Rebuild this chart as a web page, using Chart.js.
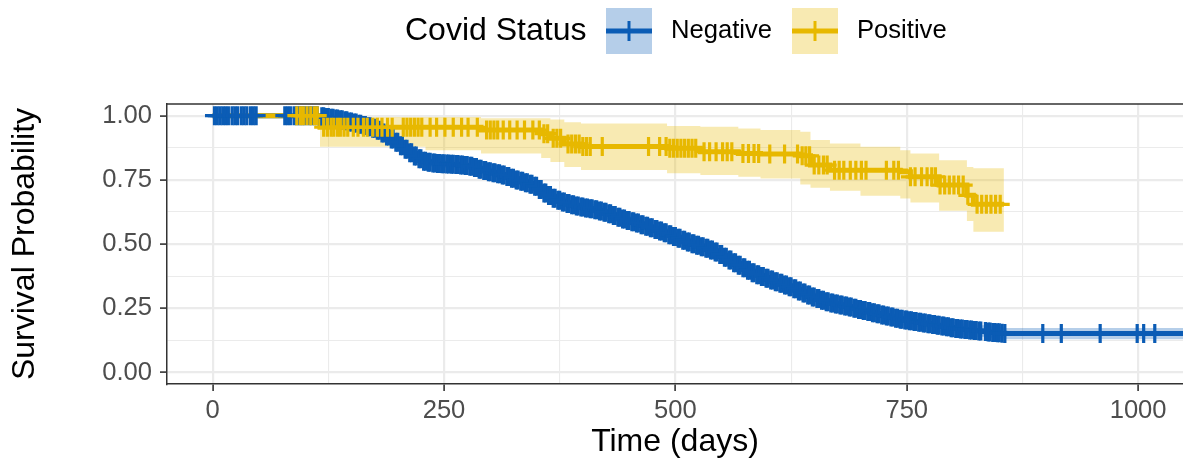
<!DOCTYPE html>
<html><head><meta charset="utf-8">
<script src="https://cdn.jsdelivr.net/npm/chart.js@4.4.0/dist/chart.umd.min.js"></script>
<style>html,body{margin:0;padding:0;background:#fff;}#c{display:block;}</style>
</head><body>
<canvas id="c" width="1183" height="465"></canvas>
<script>
// ---------- data ----------
const groupNames = ['Negative', 'Positive'];
const legendTitle = 'Covid Status';
const xTitle = 'Time (days)';
const yTitle = 'Survival Probability';
const xMajorTicks = [0, 250, 500, 750, 1000];
const xMinorTicks = [125, 375, 625, 875];
const yMajorTicks = [0, 0.25, 0.5, 0.75, 1];
const yMinorTicks = [0.125, 0.375, 0.625, 0.875];

// Negative group: Kaplan-Meier step curve
const negTime = [0,116,121,126,131,136,141,146,151,156,161,166,171,176,181,186,191,196,201,206,211,216,221,226,231,236,241,246,251,256,261,266,271,276,281,286,291,296,301,306,311,316,321,326,331,336,341,346,351,356,361,366,371,376,381,386,391,396,401,406,411,416,421,426,431,436,441,446,451,456,461,466,471,476,481,486,491,496,501,506,511,516,521,526,531,536,541,546,551,556,561,566,571,576,581,586,591,596,601,606,611,616,621,626,631,636,641,646,651,656,661,666,671,676,681,686,691,696,701,706,711,716,721,726,731,736,741,746,751,756,761,766,771,776,781,786,791,796,801,806,811,816,821,826,831,836,841,846,851,856,1060];
const negSurv = [1,0.996,0.993,0.99,0.987,0.984,0.98,0.976,0.972,0.967,0.962,0.957,0.951,0.943,0.933,0.921,0.909,0.897,0.883,0.869,0.856,0.843,0.832,0.823,0.819,0.816,0.814,0.813,0.812,0.811,0.81,0.808,0.806,0.803,0.798,0.792,0.787,0.782,0.778,0.774,0.769,0.763,0.757,0.75,0.745,0.739,0.733,0.725,0.713,0.699,0.689,0.679,0.671,0.664,0.658,0.653,0.649,0.645,0.641,0.638,0.634,0.629,0.624,0.618,0.612,0.605,0.598,0.592,0.587,0.582,0.576,0.57,0.564,0.557,0.551,0.544,0.537,0.53,0.523,0.515,0.508,0.502,0.496,0.49,0.484,0.477,0.469,0.46,0.449,0.438,0.428,0.418,0.408,0.398,0.389,0.381,0.374,0.367,0.36,0.354,0.348,0.341,0.334,0.326,0.318,0.31,0.302,0.294,0.288,0.282,0.276,0.271,0.267,0.263,0.259,0.255,0.25,0.246,0.242,0.238,0.233,0.229,0.224,0.22,0.216,0.212,0.208,0.205,0.202,0.199,0.196,0.193,0.19,0.187,0.184,0.181,0.178,0.175,0.172,0.17,0.168,0.166,0.164,0.162,0.16,0.158,0.156,0.155,0.153,0.152,0.152];
// Negative group: 95% confidence band
const negCITime = [0,116,126,136,146,156,166,176,186,196,206,216,226,236,246,256,266,276,286,296,306,316,326,336,346,356,366,376,386,396,406,416,426,436,446,456,466,476,486,496,506,516,526,536,546,556,566,576,586,596,606,616,626,636,646,656,666,676,686,696,706,716,726,736,746,756,766,776,786,796,806,816,826,836,846,856,1060];
const negUpper = [1,1,0.998,0.992,0.984,0.979,0.969,0.955,0.933,0.909,0.881,0.859,0.839,0.832,0.829,0.827,0.824,0.819,0.808,0.798,0.79,0.779,0.766,0.755,0.741,0.718,0.698,0.683,0.672,0.664,0.657,0.648,0.637,0.624,0.611,0.601,0.589,0.576,0.563,0.549,0.534,0.524,0.512,0.499,0.482,0.46,0.44,0.42,0.403,0.389,0.376,0.363,0.348,0.332,0.316,0.304,0.293,0.285,0.277,0.268,0.26,0.251,0.242,0.234,0.227,0.221,0.215,0.209,0.203,0.197,0.192,0.188,0.184,0.18,0.177,0.174,0.174];
const negLower = [1,0.988,0.982,0.976,0.968,0.955,0.945,0.931,0.909,0.885,0.857,0.827,0.807,0.8,0.797,0.795,0.792,0.787,0.776,0.766,0.758,0.747,0.734,0.723,0.709,0.68,0.66,0.645,0.634,0.626,0.619,0.61,0.599,0.586,0.573,0.563,0.551,0.538,0.525,0.511,0.496,0.48,0.468,0.455,0.438,0.416,0.396,0.376,0.359,0.345,0.332,0.319,0.304,0.288,0.272,0.26,0.249,0.241,0.233,0.224,0.216,0.207,0.198,0.19,0.183,0.177,0.171,0.165,0.159,0.153,0.148,0.144,0.14,0.136,0.133,0.13,0.13];
const negCensor = [2,5,8,11,14,17,21,24,27,31,34,37,41,44,47,78,81,84,88,91,94,97,100,104,107,110,113,
118,120,123,125,128,130,133,135,138,140,143,145,148,150,153,155,158,160,163,165,168,170,173,175,178,180,183,185,188,190,193,195,198,200,203,205,208,210,213,215,218,220,223,225,228,230,233,235,238,240,243,245,248,250,253,255,258,260,263,265,268,270,273,275,278,280,283,285,288,290,293,295,298,300,303,305,308,310,313,315,318,320,323,325,328,330,333,335,338,340,343,345,348,350,353,355,358,360,363,365,368,370,373,375,378,380,383,385,388,390,393,395,398,400,403,405,408,410,413,415,418,420,423,425,428,430,433,435,438,440,443,445,448,450,453,455,458,460,463,465,468,470,473,475,478,480,483,485,488,490,493,495,498,500,503,505,508,510,513,515,518,520,523,525,528,530,533,535,538,540,543,545,548,550,553,555,558,560,563,565,568,570,573,575,578,580,583,585,588,590,593,595,598,600,603,605,608,610,613,615,618,620,623,625,628,630,633,635,638,640,643,645,648,650,653,655,658,660,663,665,668,670,673,675,678,680,683,685,688,690,693,695,698,700,703,705,708,710,713,715,718,720,723,725,728,730,733,735,738,740,743,745,748,750,753,755,758,760,763,765,768,770,773,775,778,780,783,785,788,790,793,795,798,800,803,805,808,810,813,815,818,820,823,825,828,830,835,838,840,843,845,848,850,853,856,
897,917,959,999,1006,1018];

// Positive group: Kaplan-Meier step curve (time, survival, 95% CI)
const posTime  = [0,116,230,290,355,365,380,398,491,527,568,592,635,646,667,700,743,754,785,815,822,855];
const posSurv  = [1,0.955,0.955,0.944,0.93,0.912,0.89,0.88,0.873,0.86,0.853,0.851,0.844,0.808,0.788,0.788,0.782,0.762,0.73,0.69,0.655,0.655];
const posUpper = [1,0.995,0.995,0.99,0.99,0.985,0.975,0.97,0.96,0.957,0.95,0.944,0.938,0.905,0.892,0.879,0.866,0.853,0.827,0.8,0.795,0.795];
const posLower = [1,0.879,0.866,0.853,0.835,0.82,0.8,0.789,0.776,0.769,0.762,0.756,0.732,0.72,0.708,0.688,0.678,0.662,0.63,0.59,0.548,0.548];
const posCensor = [91,95,98,102,106,110,113,
120,124,128,131,135,138,142,146,152,157,163,167,173,178,183,189,194,206,210,214,218,222,226,235,242,251,260,269,276,286,296,300,304,308,314,321,329,337,346,353,358,362,368,372,376,384,388,392,396,400,404,408,421,471,483,490,494,498,502,506,510,514,518,522,531,537,544,551,556,561,573,579,585,590,602,618,632,637,641,645,650,655,660,664,672,677,682,689,695,701,706,728,736,741,754,759,766,772,777,781,786,791,796,801,806,811,816,826,831,836,841,846,851];

// ---------- helpers ----------
const NEG = '#0B5CB5', NEG_FILL = 'rgba(11,92,181,0.3)';
const POS = '#E7B800', POS_FILL = 'rgba(231,184,0,0.3)';
const FONT = '"Liberation Sans", Arial, Helvetica, sans-serif';
function stepAt(times, vals, t) {
  let v = vals[0];
  for (let i = 0; i < times.length; i++) { if (times[i] <= t) v = vals[i]; else break; }
  return v;
}
const pts = (times, vals) => times.map((t, i) => ({ x: t, y: vals[i] }));
const censorPts = (c, times, vals) => c.map(t => ({ x: t, y: stepAt(times, vals, t) }));

const ribbon = (data, color, fill, order) => ({
  data, stepped: 'before', fill, backgroundColor: color, borderColor: 'rgba(0,0,0,0)',
  borderWidth: 0, pointRadius: 0, order
});
const stepLine = (data, color, order) => ({
  data, stepped: 'before', fill: false, borderColor: color, borderWidth: 5,
  pointRadius: 0, order, borderCapStyle: 'butt'
});
const censor = (data, color, order) => ({
  data, showLine: false, pointStyle: 'cross', pointRadius: 9.5, pointHoverRadius: 9.5,
  pointBorderWidth: 3.2, pointBorderColor: color, pointBackgroundColor: color, order
});

const legendPlugin = {
  id: 'kmLegend',
  afterDraw(chart) {
    const ctx = chart.ctx;
    ctx.save();
    const cy = 31;
    ctx.textBaseline = 'middle';
    ctx.textAlign = 'left';
    ctx.fillStyle = '#000';
    ctx.font = '32px ' + FONT;
    ctx.fillText(legendTitle, 405, cy);
    const keys = [
      { x: 606, c: NEG, f: NEG_FILL, label: groupNames[0], tx: 671 },
      { x: 792, c: POS, f: POS_FILL, label: groupNames[1], tx: 857 }
    ];
    keys.forEach(k => {
      ctx.fillStyle = k.f;
      ctx.fillRect(k.x, 8, 46, 46);
      ctx.strokeStyle = k.c;
      ctx.lineWidth = 5;
      ctx.beginPath(); ctx.moveTo(k.x, cy); ctx.lineTo(k.x + 46, cy); ctx.stroke();
      ctx.lineWidth = 3;
      ctx.beginPath(); ctx.moveTo(k.x + 23, cy - 10); ctx.lineTo(k.x + 23, cy + 10); ctx.stroke();
      ctx.fillStyle = '#000';
      ctx.font = '25.6px ' + FONT;
      ctx.fillText(k.label, k.tx, cy);
    });
    // top panel border
    const a = chart.chartArea;
    ctx.strokeStyle = '#333333';
    ctx.lineWidth = 1.5;
    ctx.beginPath(); ctx.moveTo(a.left, a.top); ctx.lineTo(a.right, a.top); ctx.stroke();
    ctx.restore();
  }
};

const isMajor = (list, v) => list.some(m => Math.abs(m - v) < 1e-9);

new Chart(document.getElementById('c'), {
  type: 'line',
  data: {
    datasets: [
      ribbon(pts(negCITime, negUpper), NEG_FILL, '+1', 6),
      ribbon(pts(negCITime, negLower), NEG_FILL, false, 6),
      ribbon(pts(posTime, posUpper), POS_FILL, '+1', 5),
      ribbon(pts(posTime, posLower), POS_FILL, false, 5),
      stepLine(pts(negTime, negSurv), NEG, 4),
      stepLine(pts(posTime, posSurv), POS, 3),
      censor(censorPts(negCensor, negTime, negSurv), NEG, 2),
      censor(censorPts(posCensor, posTime, posSurv), POS, 1)
    ]
  },
  options: {
    responsive: false,
    devicePixelRatio: 1,
    animation: false,
    events: [],
    layout: { autoPadding: false, padding: { top: 104, left: 0, right: 0, bottom: 0 } },
    plugins: { legend: { display: false }, tooltip: { enabled: false } },
    scales: {
      x: {
        type: 'linear', min: -49.3, max: 1048.5,
        afterBuildTicks: s => { s.ticks = [...xMajorTicks, ...xMinorTicks].sort((a, b) => a - b).map(v => ({ value: v })); },
        afterFit: s => { s.height = 81; s.paddingLeft = 0; s.paddingRight = 0; },
        ticks: {
          autoSkip: false, maxRotation: 0, padding: 5, color: '#4D4D4D',
          font: { family: FONT, size: 25.6 },
          callback: v => isMajor(xMajorTicks, v) ? String(v) : ''
        },
        grid: {
          color: '#EBEBEB',
          lineWidth: c => (c.tick && isMajor(xMajorTicks, c.tick.value)) ? 2.2 : 1.1,
          tickColor: c => (c.tick && isMajor(xMajorTicks, c.tick.value)) ? '#333333' : 'rgba(0,0,0,0)',
          tickLength: 7, tickWidth: 1.6
        },
        border: { display: true, color: '#333333', width: 1.5 },
        title: { display: true, text: xTitle, color: '#000', font: { family: FONT, size: 32 }, padding: { top: 0, bottom: 4 } }
      },
      y: {
        type: 'linear', min: -0.0444, max: 1.0456,
        afterBuildTicks: s => { s.ticks = [...yMajorTicks, ...yMinorTicks].sort((a, b) => a - b).map(v => ({ value: v })); },
        afterFit: s => { s.width = 167; s.paddingTop = 0; s.paddingBottom = 0; },
        ticks: {
          autoSkip: false, padding: 8, color: '#4D4D4D',
          font: { family: FONT, size: 25.6 },
          callback: v => isMajor(yMajorTicks, v) ? v.toFixed(2) : ''
        },
        grid: {
          color: '#EBEBEB',
          lineWidth: c => (c.tick && isMajor(yMajorTicks, c.tick.value)) ? 2.2 : 1.1,
          tickColor: c => (c.tick && isMajor(yMajorTicks, c.tick.value)) ? '#333333' : 'rgba(0,0,0,0)',
          tickLength: 7, tickWidth: 1.6
        },
        border: { display: true, color: '#333333', width: 1.5 },
        title: { display: true, text: yTitle, color: '#000', font: { family: FONT, size: 32 }, padding: { top: 6, bottom: 0 } }
      }
    }
  },
  plugins: [legendPlugin]
});
</script>
</body></html>
